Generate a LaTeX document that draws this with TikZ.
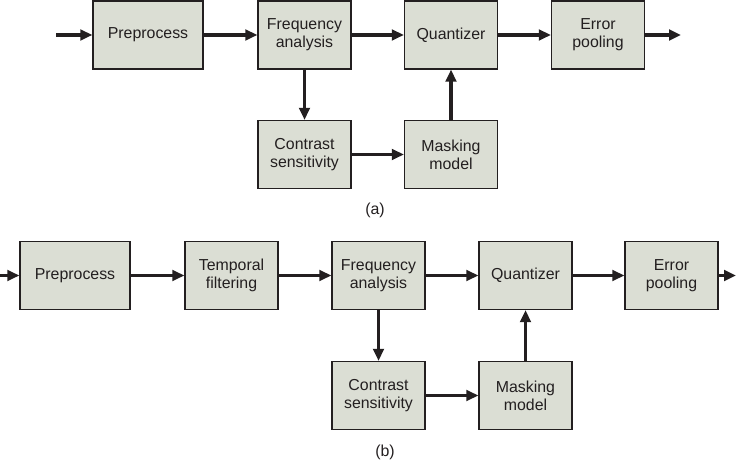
\documentclass[tikz,border=0pt]{standalone}
\usepackage{fontspec}
\setmainfont{Liberation Sans}
\usetikzlibrary{arrows.meta,positioning}
\definecolor{bfill}{RGB}{219,222,212}
\definecolor{bink}{RGB}{35,31,32}

\begin{document}
\begin{tikzpicture}[
  font=\fontsize{11.3}{12.6}\selectfont,
  every node/.style={text=bink},
  block/.style={draw=bink,line width=0.9pt,fill=bfill,align=center,inner sep=0pt,
                minimum width=2.325cm,minimum height=1.7cm},
  wide/.style={block,minimum width=2.75cm},
  flow/.style={bink,line width=2.2pt,-{Triangle[length=8.5pt,width=7.5pt]}}]

\useasboundingbox (0,0) rectangle (18.425,-11.5);

% ---- (a) ----
\coordinate (ina) at (1.40,-0.875);
\coordinate (outa) at (17.025,-0.875);
\node[wide]  (prepa)  at (3.70,-0.875)   {Preprocess};
\node[block] (freqa)  at (7.6125,-0.875) {Frequency\\analysis};
\node[block] (quanta) at (11.275,-0.875) {Quantizer};
\node[block] (poola)  at (14.95,-0.875)  {Error\\pooling};
\node[block] (conta)  at (7.6125,-3.8625) {Contrast\\sensitivity};
\node[block] (maska)  at (11.275,-3.8625) {Masking\\model};
\node (laba) at (9.375,-5.25) {(a)};

\draw[flow] (ina)--(prepa); \draw[flow] (prepa)--(freqa);
\draw[flow] (freqa)--(quanta); \draw[flow] (quanta)--(poola);
\draw[flow] (poola)--(outa);
\draw[flow] (freqa)--(conta); \draw[flow] (conta)--(maska);
\draw[flow] (maska)--(quanta);

% ---- (b) ----
\coordinate (inb) at (0,-6.8875);
\coordinate (outb) at (18.40,-6.8875);
\node[wide]  (prepb)  at (1.875,-6.8875)   {Preprocess};
\node[block] (tempb)  at (5.7875,-6.8875)  {Temporal\\filtering};
\node[block] (freqb)  at (9.4625,-6.8875)  {Frequency\\analysis};
\node[block] (quantb) at (13.1375,-6.8875) {Quantizer};
\node[block] (poolb)  at (16.7875,-6.8875) {Error\\pooling};
\node[block] (contb)  at (9.4625,-9.8875)  {Contrast\\sensitivity};
\node[block] (maskb)  at (13.1375,-9.8875) {Masking\\model};
\node (labb) at (9.625,-11.3) {(b)};

\draw[flow] (inb)--(prepb); \draw[flow] (prepb)--(tempb);
\draw[flow] (tempb)--(freqb); \draw[flow] (freqb)--(quantb);
\draw[flow] (quantb)--(poolb); \draw[flow] (poolb)--(outb);
\draw[flow] (freqb)--(contb); \draw[flow] (contb)--(maskb);
\draw[flow] (maskb)--(quantb);
\end{tikzpicture}
\end{document}
